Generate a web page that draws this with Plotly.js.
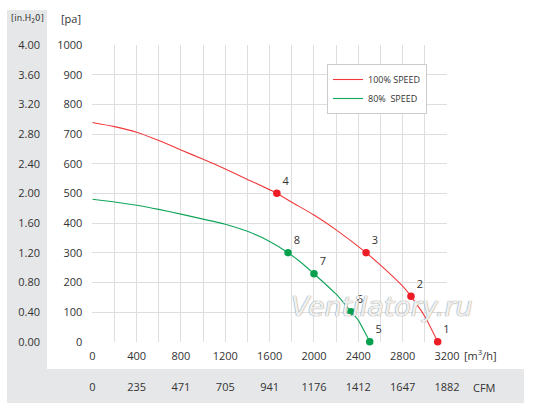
<!DOCTYPE html>
<html>
<head>
<meta charset="utf-8">
<script src="https://cdn.plot.ly/plotly-3.0.1.min.js"></script>
<style>html,body{margin:0;padding:0;background:#fff;}#chart{width:534px;height:412px;}</style>
</head>
<body>
<div id="chart"></div>
<script>
// Curve data (m3/h vs Pa)
const flow100 = [0, 200, 400, 600, 800, 1000, 1200, 1400, 1665, 1800, 2000, 2200, 2470, 2600, 2800, 2875, 3000, 3116];
const press100 = [739, 725, 706, 678, 646, 615, 582, 547, 500, 470, 427, 377, 300, 258, 187, 153, 85, 0];
const flow80 = [0, 200, 400, 600, 800, 1000, 1200, 1400, 1600, 1766, 1900, 2000, 2200, 2334, 2400, 2503];
const press80 = [480, 471, 460, 446, 430, 413, 396, 372, 338, 300, 262, 229, 160, 101, 72, 0];

// Numbered operating points
const ptFlow100 = [3116, 2875, 2470, 1665];
const ptPress100 = [0, 153, 300, 500];
const ptLabel100 = ['1', '2', '3', '4'];
const ptFlow80 = [2503, 2334, 2000, 1766];
const ptPress80 = [0, 101, 229, 300];
const ptLabel80 = ['5', '6', '7', '8'];

// Tick labels
const flowTicks = [0, 400, 800, 1200, 1600, 2000, 2400, 2800, 3200];
const cfmLabels = ['0', '235', '471', '705', '941', '1176', '1412', '1647', '1882'];
const paTicks = [0, 100, 200, 300, 400, 500, 600, 700, 800, 900, 1000];
const inH2OLabels = ['0.00', '0.40', '0.80', '1.20', '1.60', '2.00', '2.40', '2.80', '3.20', '3.60', '4.00'];

const RED = '#f0393b';
const GREEN = '#0fa55a';
const TXT = '#333333';
const GRID = '#dedede';
const W = 534, H = 412;
const px = v => v / W;
const py = v => (H - v) / H;

const traces = [
  { x: flow100, y: press100, mode: 'lines', name: '100% SPEED',
    line: { color: RED, width: 1.1, shape: 'spline', smoothing: 0.6 }, hoverinfo: 'skip' },
  { x: flow80, y: press80, mode: 'lines', name: '80%&nbsp;&nbsp;SPEED',
    line: { color: GREEN, width: 1.1, shape: 'spline', smoothing: 0.6 }, hoverinfo: 'skip' },
  { x: ptFlow100, y: ptPress100, text: ptLabel100, mode: 'markers+text', showlegend: false,
    marker: { color: '#ee1c25', size: 7.5 }, textposition: 'top right',
    textfont: { size: 11, color: TXT }, hoverinfo: 'skip', cliponaxis: false },
  { x: ptFlow80, y: ptPress80, text: ptLabel80, mode: 'markers+text', showlegend: false,
    marker: { color: '#07a04f', size: 7.5 }, textposition: 'top right',
    textfont: { size: 11, color: TXT }, hoverinfo: 'skip', cliponaxis: false },
  { x: [null], y: [null], xaxis: 'x2', yaxis: 'y2', showlegend: false, hoverinfo: 'skip', mode: 'markers' }
];

function note(text, x, y, font) {
  return { text: text, xref: 'paper', yref: 'paper', x: px(x), y: py(y),
           xanchor: 'center', yanchor: 'middle', showarrow: false, font: font };
}

const layout = {
  width: W, height: H,
  margin: { l: 0, r: 0, t: 0, b: 0, pad: 0 },
  paper_bgcolor: '#ffffff', plot_bgcolor: '#ffffff',
  font: { family: 'Open Sans, Noto Sans, sans-serif', size: 11, color: TXT },
  showlegend: true,
  xaxis: {
    domain: [px(92.3), px(447)], range: [0, 3200],
    tickvals: flowTicks, ticktext: flowTicks.map(String),
    showgrid: true, gridcolor: GRID, gridwidth: 1,
    minor: { dtick: 200, showgrid: true, gridcolor: GRID, gridwidth: 1 },
    zeroline: false, showline: false, ticks: '', ticklabelstandoff: 6,
    tickfont: { size: 11, color: TXT }, fixedrange: true
  },
  yaxis: {
    domain: [py(341.7), py(45)], range: [0, 1000],
    tickvals: paTicks, ticktext: paTicks.map(String),
    showgrid: true, gridcolor: GRID, gridwidth: 1,
    zeroline: false, showline: false, ticks: '', ticklabelstandoff: 9,
    tickfont: { size: 11, color: TXT }, fixedrange: true
  },
  xaxis2: {
    overlaying: 'x', anchor: 'free', position: py(379), side: 'bottom',
    range: [0, 3200], tickvals: flowTicks, ticktext: cfmLabels,
    showgrid: false, zeroline: false, showline: false, ticks: '',
    tickfont: { size: 11, color: TXT }, fixedrange: true
  },
  yaxis2: {
    overlaying: 'y', anchor: 'free', position: px(40), side: 'left',
    range: [0, 1000], tickvals: paTicks, ticktext: inH2OLabels,
    showgrid: false, zeroline: false, showline: false, ticks: '',
    tickfont: { size: 11, color: TXT }, fixedrange: true
  },
  legend: {
    x: px(327), y: py(64), xanchor: 'left', yanchor: 'top',
    bgcolor: '#ffffff', bordercolor: '#cccccc', borderwidth: 1,
    font: { size: 9, color: TXT }, itemwidth: 30, tracegroupgap: 0
  },
  shapes: [
    { type: 'rect', xref: 'paper', yref: 'paper', x0: px(7), x1: px(47), y0: py(403), y1: py(10),
      fillcolor: '#e6e7e8', line: { width: 0 }, layer: 'below' },
    { type: 'rect', xref: 'paper', yref: 'paper', x0: px(7), x1: px(524), y0: py(403), y1: py(369),
      fillcolor: '#e6e7e8', line: { width: 0 }, layer: 'below' }
  ],
  annotations: [
    note('[in.H<sub>2</sub>0]', 27, 19, { size: 9.5, color: TXT, family: 'Liberation Sans Narrow, DejaVu Sans Condensed, sans-serif' }),
    note('[pa]', 71, 19, { size: 11, color: TXT }),
    note('[m<sup>3</sup>/h]', 480, 355, { size: 11, color: TXT }),
    note('CFM', 484, 387, { size: 11, color: TXT }),
    note('<i>Ventilatory.ru</i>', 382, 306,
      { size: 27, color: 'rgba(255,255,255,0.9)', family: 'DejaVu Sans, sans-serif',
        shadow: '0 0 1px #8a8a8a, 0 0 1px #8a8a8a' })
  ]
};

Plotly.newPlot('chart', traces, layout, { staticPlot: true, displayModeBar: false });
</script>
</body>
</html>
